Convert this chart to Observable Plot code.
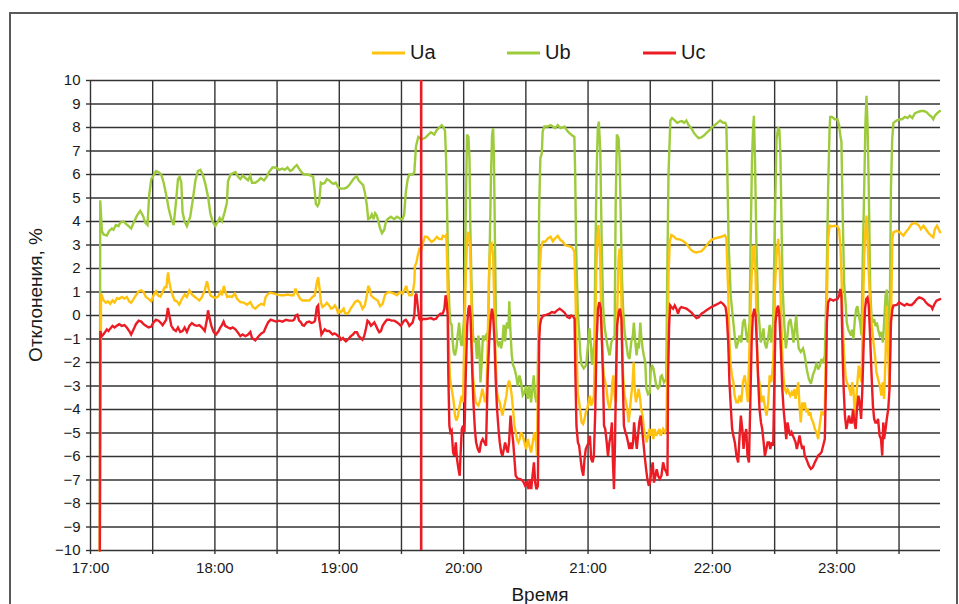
<!DOCTYPE html>
<html><head><meta charset="utf-8">
<script src="https://cdn.jsdelivr.net/npm/d3@7"></script>
<script src="https://cdn.jsdelivr.net/npm/@observablehq/plot@0.6"></script>
<style>
html,body{margin:0;padding:0;background:#fff;}
#wrap{position:relative;width:959px;height:604px;overflow:hidden;font-family:"Liberation Sans",Arial,sans-serif;}
#chart{position:absolute;left:0;top:0;}
#overlay{position:absolute;left:0;top:0;}
#frame{position:absolute;left:9px;top:12px;width:945px;height:640px;border:2px solid #5a5a5a;pointer-events:none;}
</style></head><body>
<div id="wrap"><div id="chart"></div><svg id="overlay" width="959" height="604"></svg><div id="frame"></div></div>
<script>
// Series names and colours (legend order)
const seriesNames = ["Ua", "Ub", "Uc"];
const seriesColors = ["#ffc20e", "#9dcb3b", "#ec1c24"];
const xTitle = "Время";
const yTitle = "Отклонения, %";
const xTickLabels = ["17:00","18:00","19:00","20:00","21:00","22:00","23:00"];
const yTickValues = [-10,-9,-8,-7,-6,-5,-4,-3,-2,-1,0,1,2,3,4,5,6,7,8,9,10];
const markerMinute = 159.5; // red marker line (minutes after 17:00)
const endMinute = 410;      // 23:50

// [minutes after 17:00, deviation %]
const ua = [
[4.5,-10],[5.1,0.93],[6.3,0.64],[7.4,0.54],[8.4,0.6],[9.5,0.5],[10.6,0.64],[11.6,0.55],[12.7,0.74],[13.8,0.71],[15.1,0.79],[16.4,0.72],[17.5,0.79],[18.7,0.6],[19.6,0.54],[20.8,0.71],[21.9,0.86],[23.2,1.03],[24.5,1.07],[25.6,1.0],[26.7,0.79],[28.0,0.71],[29.3,0.6],[30.4,0.86],[31.6,1.03],[32.5,0.86],[33.7,0.8],[34.8,1.0],[35.8,1.2],[36.6,1.2],[37.4,1.83],[38.0,1.43],[38.7,1.14],[39.6,0.86],[40.6,0.64],[41.7,0.6],[42.8,0.46],[44.1,0.71],[45.4,0.89],[46.5,0.79],[47.7,1.07],[49.0,0.89],[50.2,0.8],[51.4,0.72],[52.5,0.64],[53.8,0.79],[55.1,1.07],[56.2,1.46],[57.0,1.14],[57.8,0.86],[58.9,0.79],[60.2,0.75],[61.5,0.8],[62.6,1.0],[63.4,0.86],[64.3,1.26],[65.1,1.0],[65.9,0.79],[67.0,0.82],[68.3,0.79],[69.6,0.93],[70.7,0.71],[72.3,0.57],[73.9,0.55],[75.5,0.46],[77.1,0.57],[78.3,0.36],[79.5,0.29],[81.1,0.43],[82.4,0.5],[83.6,0.45],[84.5,0.79],
[85.7,0.93],[86.9,0.97],[88.5,0.93],[90.2,0.89],[91.8,0.86],[93.4,0.86],[95.0,0.89],[96.6,0.86],[97.9,0.86],[98.9,1.14],[99.8,0.93],[101.1,0.71],[102.2,0.64],[103.9,0.64],[105.5,0.64],[107.1,0.79],[108.2,0.86],[109.2,1.42],[109.8,1.63],[110.5,1.14],[111.1,0.57],[111.9,0.36],[113.0,0.43],[114.0,0.54],[115.1,0.43],[116.0,0.29],[116.8,0.31],[117.9,0.43],[118.8,0.29],[119.5,0.07],[120.1,0.21],[120.8,0.14],[122.1,0.29],[122.7,0.11],[123.7,0.07],[124.6,0.14],[125.6,0.31],[126.6,0.43],[127.5,0.57],[128.8,0.64],[130.1,0.54],[131.2,0.29],[132.3,0.43],[133.3,0.86],[133.95,1.26],[134.6,1.14],[135.3,0.86],[136.0,0.79],[137.2,0.71],[138.5,0.64],[139.7,0.4],[140.9,0.5],[142.0,0.86],[143.0,0.97],[144.1,1.0],[145.2,0.97],[146.5,0.93],[147.8,0.86],[148.9,0.97],[149.7,1.0],[150.5,0.93],[151.7,1.14],[152.3,1.26],[153.0,1.0],[153.8,0.86],[154.9,0.86],[155.5,1.0],[156.2,1.42],[156.5,2.11],[157.2,2.25],[157.8,2.53],[158.6,2.82],[159.4,2.75],[160.4,3.1],[161.3,3.35],[162.3,3.35],[163.4,3.24],[164.5,3.13],[165.8,3.21],
[167.1,3.35],[168.2,3.25],[169.4,3.25],[170.0,3.39],[171.0,3.35],[171.6,3.42],[172.0,2.42],[172.3,1.0],[172.8,-1.13],[173.3,-2.55],[173.9,-2.98],[174.5,-3.27],[175.2,-3.69],[175.8,-4.26],[176.5,-4.47],[177.1,-4.33],[177.8,-3.98],[178.4,-3.69],[179.0,-3.41],[179.7,-3.69],[180.3,-1.13],[181.0,1.71],[181.6,3.14],[182.1,3.56],[182.6,3.42],[183.1,2.85],[183.6,1.0],[184.0,-1.13],[184.5,-2.55],[185.2,-3.27],[185.8,-3.69],[186.4,-3.76],[187.1,-3.83],[187.7,-3.69],[188.4,-3.41],[189.0,-3.12],[189.7,-3.41],[190.3,-3.69],[191.0,-3.41],[191.6,-1.13],[192.2,1.71],[192.9,2.99],[193.5,3.06],[194.2,2.57],[194.8,0.29],[195.4,-1.84],[196.1,-3.27],[196.7,-3.55],[197.4,-3.69],[198.0,-3.98],[198.7,-4.26],[199.3,-3.98],[200.0,-3.69],[200.6,-3.41],[201.2,-2.98],[201.9,-2.77],[202.5,-2.98],[203.2,-3.41],[203.8,-3.98],[204.5,-4.69],[205.1,-4.97],[205.7,-5.26],[206.4,-5.4],[207.0,-5.26],[207.7,-4.97],[208.5,-5.12],[209.3,-5.4],[210.1,-5.68],[210.9,-5.26],[211.7,-5.54],[212.5,-5.83],[213.3,-5.4],[214.1,-4.97],[214.9,-5.4],[215.4,-5.97],[216.0,-1.13],[216.5,1.71],[217.3,2.85],[218.1,3.14],[219.3,3.14],[220.6,3.28],[221.9,3.35],[223.0,3.16],[224.1,3.28],[225.4,3.39],[226.7,3.21],[227.8,3.14],[229.0,2.99],[230.2,2.96],[231.8,2.92],[232.7,2.85],[233.4,2.71],[233.9,1.0],[234.4,-1.13],[235.0,-3.27],[235.7,-3.69],[236.3,-4.12],[236.9,-4.55],[237.6,-4.62],[238.3,-4.4],[238.9,-4.12],[239.6,-3.98],[240.2,-3.69],[240.9,-3.41],[241.5,-3.83],[242.2,-3.69],[242.8,-3.41],[243.4,-1.13],[243.9,1.71],[244.4,3.1],[245.0,3.85],[245.7,2.85],[246.3,0.29],[247.0,-1.84],[247.6,-2.55],[248.3,-2.84],[248.7,-2.98],
[249.6,-3.69],[250.4,-3.98],[251.2,-3.55],[251.7,-2.84],[252.2,-2.55],[252.8,-3.41],[253.5,-3.69],[254.1,0.29],[254.7,2.42],[255.2,2.85],[255.7,2.42],[256.3,-0.42],[256.9,-2.55],[257.6,-3.41],[258.3,-3.69],[258.9,-3.98],[259.6,-4.55],[260.2,-3.98],[260.8,-3.41],[261.5,-2.84],[262.0,-1.99],[262.5,-3.12],[263.1,-3.69],[263.8,-3.41],[264.4,-3.12],[265.1,-3.55],[265.6,-3.98],[266.3,-4.26],[266.9,-4.83],[267.6,-5.12],[268.3,-5.4],[268.9,-5.12],[269.6,-4.83],[270.2,-5.12],[270.8,-4.83],[271.5,-5.26],[272.1,-4.83],[272.9,-5.12],[273.7,-4.97],[274.5,-4.83],[275.0,-5.12],[276.2,-4.83],[277.0,-4.97],[277.7,-4.83],[278.2,-2.55],[278.8,1.71],[279.4,3.14],[280.2,3.42],[281.5,3.35],[282.6,3.25],[283.7,3.25],[285.0,3.21],[286.3,3.14],[287.4,3.06],[288.5,2.92],[289.8,2.78],[291.1,2.71],[292.2,2.68],[293.3,2.71],[294.7,2.74],[295.9,2.85],[297.0,2.96],[298.2,3.11],[299.4,3.21],[301.1,3.28],[302.4,3.31],[304.4,3.35],[306.0,3.42],[306.7,3.28],[307.6,1.0],[308.2,-1.13],[308.8,-2.13],[309.4,-2.55],[310.1,-2.84],[310.7,-3.41],[311.5,-3.69],[312.3,-3.69],[313.1,-3.41],[313.9,-3.69],[314.7,-2.84],[315.6,-2.55],[316.4,-3.12],[317.1,-3.69],[317.9,-1.13],[318.9,1.71],[319.6,2.85],[320.0,3.0],[320.8,1.71],[321.4,-1.13],[322.0,-2.55],[322.9,-2.98],[323.7,-3.69],[324.5,-3.41],[325.2,-3.83],[326.1,-4.26],[326.9,-3.69],[327.6,-2.55],[328.4,-2.84],
[329.3,-1.99],[330.1,1.13],[330.9,2.55],[331.7,3.26],[332.3,2.55],[333.0,0.42],[333.7,-1.71],[334.3,-2.7],[334.9,-3.13],[335.6,-3.27],[336.2,-3.13],[337.5,-3.41],[338.2,-3.27],[338.8,-3.41],[339.5,-3.13],[340.1,-3.55],[341.4,-2.84],[342.0,-3.84],[342.6,-4.55],[343.3,-3.7],[343.9,-3.98],[344.5,-3.7],[345.3,-4.12],[345.9,-3.98],[346.5,-4.26],[347.2,-4.12],[347.8,-4.4],[348.6,-4.55],[349.4,-4.83],[350.2,-4.97],[351.0,-5.26],[351.9,-4.55],[352.6,-4.12],[353.4,-4.19],[354.2,-3.98],[355.0,-0.29],[355.8,3.26],[356.5,3.82],[357.5,3.79],[359.0,3.82],[360.3,3.79],[361.1,3.68],[361.7,2.97],[362.2,1.84],[362.8,-0.29],[363.5,-1.71],[364.2,-2.56],[364.8,-2.84],[365.5,-2.99],[366.1,-3.13],[366.8,-3.41],[367.4,-2.84],[368.0,-3.13],[368.7,-4.26],[369.3,-3.7],[369.9,-2.84],[370.6,-2.13],[371.2,-2.56],[371.9,-2.84],[372.5,-0.29],[373.2,2.55],[373.8,3.68],[374.3,4.25],[374.8,3.26],[375.4,1.84],[376.1,0.42],[376.7,-0.29],[377.5,-1.0],[378.4,-1.71],[379.1,-2.42],[379.9,-2.7],[380.7,-2.99],[381.5,-3.41],[382.2,-2.84],[382.8,-3.55],[383.5,-1.71],[384.1,0.42],[384.8,-1.71],[385.4,-3.13],[386.1,-0.29],[386.8,3.26],[387.3,3.54],[388.8,3.6],[390.4,3.54],[392.1,3.4],[393.2,3.54],[394.5,3.68],[396.1,3.89],[397.6,3.94],[399.4,3.85],[400.5,3.68],[401.8,3.82],[402.9,3.68],[404.2,3.51],[405.5,3.4],[406.5,3.33],[407.3,3.68],[408.3,3.82],[409.8,3.54]
];

const ub = [
[4.5,-10],[4.7,4.9],[5.5,3.6],[6.3,3.45],[7.9,3.4],[9.0,3.6],[10.3,3.7],[11.1,3.65],[12.2,3.85],[13.5,3.8],[14.3,3.95],[15.9,4.0],[17.1,3.9],[18.4,3.8],[19.6,3.7],[20.8,3.95],[22.4,4.25],[24.0,4.45],[25.3,4.25],[26.4,3.95],[27.5,3.85],[28.3,5.1],[29.3,5.8],[30.4,5.95],[31.6,6.15],[32.8,6.1],[34.1,6.0],[35.3,5.65],[36.6,5.1],[37.7,4.55],[39.0,4.1],[40.1,3.85],[41.2,4.8],[42.2,5.8],[43.0,5.9],[43.8,5.65],[44.4,4.4],[45.4,4.0],[46.5,3.8],[47.3,4.0],[48.1,4.2],[49.3,4.9],[50.6,5.75],[51.8,6.15],[53.0,6.2],[54.1,6.0],[55.4,5.6],[56.7,5.05],[57.8,4.35],[58.9,4.0],[60.2,3.8],[61.5,4.0],[62.3,4.15],[63.4,4.0],[64.7,4.4],[65.8,4.8],[66.3,5.7],[67.5,6.0],[68.6,6.05],[69.9,6.1],[71.2,5.9],[72.3,5.8],[73.4,5.95],[74.7,5.85],[76.0,5.75],[77.1,5.95],[77.9,5.65],[79.5,5.65],[81.1,5.75],
[82.1,5.85],[83.7,5.75],[85.0,5.9],[86.1,6.1],[87.8,6.3],[89.4,6.3],[91.0,6.2],[92.6,6.25],[93.7,6.2],[95.0,6.3],[96.3,6.15],[97.4,6.2],[98.2,6.3],[99.5,6.4],[100.6,6.25],[101.8,6.1],[103.0,6.0],[104.7,6.0],[106.3,5.95],[107.4,5.9],[108.2,5.25],[108.7,4.75],[109.5,4.65],[110.3,4.8],[111.1,5.65],[111.9,5.6],[113.0,5.65],[114.0,5.8],[115.1,5.75],[116.3,5.65],[117.2,5.6],[118.3,5.65],[119.5,5.45],[120.8,5.4],[122.4,5.4],[123.7,5.45],[124.8,5.55],[126.0,5.7],[127.2,5.85],[128.4,5.93],[129.3,5.75],[130.4,5.65],[131.5,5.55],[132.3,5.25],[133.3,4.7],[133.95,4.1],[134.9,4.15],[135.7,4.3],[136.5,4.1],[137.3,4.35],[138.1,4.25],[138.9,4.0],[139.7,3.7],[140.6,3.5],[141.7,3.65],[142.5,4.0],[143.3,4.1],[144.9,4.2],[146.5,4.1],[147.8,4.2],[148.9,4.15],[149.7,4.1],[150.5,4.1],[151.3,4.3],[152.1,5.25],[153.0,5.8],[153.8,6.0],[155.5,6.0],[156.2,6.1],[157.0,7.2],[158.1,7.6],[159.7,7.5],[161.3,7.55],[163.0,7.7],
[164.2,7.8],[165.8,7.7],[167.1,7.9],[168.2,8.0],[169.4,8.1],[170.3,8.0],[171.0,7.86],[171.5,6.7],[172.0,4.55],[172.6,1.7],[173.1,0.3],[173.6,-0.3],[174.2,-0.4],[174.7,-1.1],[175.2,-1.55],[175.8,-1.7],[176.5,-1.4],[177.1,-0.85],[177.8,-0.3],[178.4,-1.0],[179.0,-1.3],[179.7,-0.7],[180.3,0],[180.8,3.1],[181.3,6.0],[181.6,7.7],[182.3,7.6],[182.8,6.7],[183.2,3.85],[183.9,0.85],[184.5,-0.85],[185.2,-1.1],[185.8,-1.1],[186.4,-1.85],[187.1,-0.85],[187.6,-1.4],[188.1,-2.85],[188.7,-2.0],[189.3,-0.85],[190.0,-1.0],[190.8,-0.85],[191.6,-1.1],[191.9,-0.3],[192.6,3.1],[193.2,6.0],[193.7,7.7],[194.2,7.97],[194.6,6.7],[195.1,3.1],[195.6,-0.4],[196.1,-1.1],[196.7,-1.25],[197.4,-1.1],[198.0,-1.4],[198.7,-1.1],[199.3,-0.4],[200.0,-1.1],[200.4,-0.55],[200.9,-0.3],[201.6,-0.55],[202.0,0.6],[202.5,-0.55],[203.2,-1.7],[203.8,-2.1],[204.5,-2.25],[205.3,-2.55],[206.1,-3.0],[206.9,-2.55],[207.7,-2.85],[208.5,-3.4],[209.3,-3.3],[210.1,-3.0],[210.9,-3.55],[211.7,-3.0],[212.5,-3.7],[213.3,-3.0],[213.8,-2.55],[214.4,-3.4],[215.1,-3.7],[215.7,-3.3],[216.0,-0.4],[216.4,4.55],[217.0,6.7],[217.7,6.9],[218.1,7.83],[218.9,8.04],[220.6,8.04],[221.9,8.1],[223.0,8.04],[224.1,7.97],[225.4,8.1],[226.7,7.97],[227.8,8.0],[228.6,8.04],[230.2,7.83],[231.8,7.7],[233.4,7.6],[233.8,6.0],[234.2,3.1],[235.0,0.3],[235.8,-0.85],[236.3,-1.7],[236.9,-2.1],[237.9,-2.25],[239.1,-2.1],[239.8,-1.4],[240.7,-0.55],[241.5,-1.4],[241.9,-2.1],[242.4,-1.7],[243.1,-1.15],[243.4,1.7],[244.1,6.0],[244.7,7.97],[245.2,8.25],[245.9,7.0],[246.6,3.0],[247.3,0.3],[248.0,-0.5],[248.8,-1.0],[249.6,-1.4],[250.4,-1.7],[251.2,-1.15],[252.0,-1.0],[252.8,-0.85],[253.3,4.55],[253.9,7.7],[254.7,7.55],[255.2,6.7],[255.7,4.55],[256.3,1.7],[256.9,0.3],[257.6,-0.7],[258.4,-1.15],[259.2,-1.7],[260.0,-1.85],[260.8,-1.15],[261.6,-0.85],[262.1,-0.3],[262.8,-1.15],[263.4,-1.7],[264.1,-1.15],[264.5,-1.4],[265.2,-0.3],[265.6,-0.85],[266.3,-1.4],[266.9,-1.7],[267.6,-2.0],[268.1,-3.1],[268.9,-3.35],[269.7,-3.3],[270.2,-2.4],[270.8,-2.1],[271.5,-2.25],[272.1,-2.55],[272.9,-3.0],[273.7,-3.1],[274.5,-3.0],[275.0,-2.6],[275.6,-2.55],[276.6,-2.85],[277.7,-2.7],[278.2,1.7],[278.8,6.0],[279.7,8.3],[280.5,8.4],[281.8,8.3],[283.0,8.2],[284.2,8.25],[285.3,8.27],[286.3,8.2],[287.4,8.3],[288.5,8.1],[289.8,7.97],[291.1,7.76],[292.2,7.65],[293.3,7.55],[294.6,7.58],[295.9,7.66],[297.0,7.76],[298.2,7.86],[299.4,7.97],[301.1,8.1],[302.4,8.2],[303.7,8.3],[305.1,8.2],[306.2,8.2],[306.7,8.1],[307.2,6.0],[307.8,3.1],[308.8,0.85],[309.4,0.3],[310.1,-0.3],[310.7,-0.85],[311.5,-1.4],[312.3,-1.15],[313.1,-0.85],[313.9,-1.15],[314.7,-0.3],[315.5,-0.15],[316.4,-0.85],[317.1,-1.15],[317.9,-0.3],[318.4,3.1],[319.1,6.7],[319.6,7.97],[320.0,8.5],[320.5,6.7],[321.2,3.1],[322.0,0.3],[322.6,-0.3],[323.3,-1.15],[323.9,-0.85],[324.6,-0.55],[325.2,-1.15],[326.0,-1.4],[326.8,-1.0],[327.6,-0.4],[328.4,-1.15],[329.3,-0.3],[330.1,4.0],[330.9,7.5],[331.7,8.0],[332.3,7.9],[332.8,6.8],[333.3,4.0],[333.9,1.1],[334.6,-0.3],[335.4,-1.4],[336.2,-0.85],[336.8,-0.3],[337.6,-0.15],[338.4,-0.6],[339.1,-1.15],[339.7,-0.6],[340.4,0],[341.0,-0.85],[341.6,-1.4],[342.6,-1.55],[343.7,-1.4],[344.5,-1.7],[345.5,-2.3],[346.5,-2.7],[347.5,-2.9],[348.4,-2.55],[349.4,-2.3],[350.2,-2.0],[351.0,-2.3],[351.8,-2.15],[352.6,-1.85],[353.4,-2.0],[354.2,-1.7],[355.0,1.1],[355.8,5.4],[356.5,7.95],[356.8,8.45],[357.7,8.45],[359.0,8.35],[360.3,8.35],[361.1,8.1],[361.7,7.65],[362.2,7.4],[362.9,4.0],[363.5,1.4],[364.2,0.55],[364.8,-0.3],[365.5,-0.6],[366.1,-0.7],[366.8,-0.85],[367.4,-0.6],[368.0,-1.0],[368.7,-0.15],[369.3,0.26],[369.9,0.4],[370.6,0],[371.2,-0.3],[371.9,-0.85],[372.5,2.5],[373.2,5.4],[373.8,8.2],[374.3,9.35],[374.8,8.2],[375.4,5.4],[376.1,1.1],[376.7,0],[377.4,-0.3],[378.0,-0.15],[378.6,-0.45],[379.3,-0.3],[379.9,-0.6],[380.7,-0.85],[381.5,-0.7],[382.2,-1.15],[382.8,-0.3],[383.5,0.85],[384.1,1.1],[384.8,-0.3],[385.4,-1.15],[386.1,5.4],[386.7,7.5],[387.3,8.2],[388.8,8.3],[390.4,8.35],[391.5,8.35],[392.8,8.45],[394.1,8.4],[395.2,8.5],[396.4,8.4],[397.6,8.6],[398.9,8.65],[400.5,8.7],[402.1,8.7],[403.3,8.65],[404.4,8.55],[405.7,8.45],[406.5,8.35],[407.3,8.5],[408.3,8.6],[409.7,8.7]
];

const uc = [
[4.5,-10],[4.7,-0.66],[5.5,-0.88],[6.3,-0.8],[7.1,-0.7],[7.9,-0.59],[8.7,-0.66],[9.5,-0.56],[10.6,-0.44],[11.6,-0.51],[12.7,-0.44],[13.85,-0.37],[15.1,-0.44],[16.4,-0.41],[17.5,-0.51],[18.7,-0.66],[19.6,-0.81],[20.8,-0.59],[21.9,-0.37],[23.2,-0.22],[24.5,-0.26],[25.6,-0.37],[26.7,-0.44],[28.0,-0.51],[29.3,-0.47],[30.4,-0.29],[31.6,-0.18],[32.8,-0.22],[33.65,-0.29],[34.8,-0.41],[35.7,-0.29],[36.5,-0.18],[37.35,0.32],[38.0,0],[39.0,-0.44],[40.1,-0.59],[41.2,-0.66],[42.2,-0.51],[43.3,-0.7],[44.4,-0.66],[45.4,-0.51],[46.5,-0.7],[47.7,-0.44],[48.9,-0.32],[50.2,-0.41],[51.4,-0.44],[52.5,-0.41],[53.8,-0.51],[55.1,-0.66],[56.2,-0.15],[56.7,0.22],[57.3,-0.07],[58.3,-0.44],[59.4,-0.7],[60.5,-0.81],[61.8,-0.66],[62.6,-0.51],[63.4,-0.41],[64.2,-0.26],[65.0,-0.44],[66.3,-0.51],[67.5,-0.56],[68.6,-0.51],[69.9,-0.59],[71.2,-0.74],[72.3,-0.88],[73.4,-0.81],[74.7,-0.88],[76.0,-0.81],[77.1,-0.7],[77.9,-0.96],[79.5,-1.06],[81.1,-0.88],[82.4,-0.76],[83.6,-0.7],
[84.5,-0.51],[85.7,-0.29],[86.9,-0.18],[88.2,-0.22],[89.4,-0.26],[91.0,-0.22],[92.6,-0.26],[94.3,-0.18],[95.9,-0.22],[97.5,-0.22],[98.2,-0.18],[99.1,0],[99.8,0.03],[100.6,-0.22],[101.5,-0.29],[102.2,-0.41],[103.0,-0.44],[104.3,-0.29],[105.5,-0.26],[106.6,-0.32],[107.6,-0.29],[108.3,-0.22],[109.2,0.36],[109.8,0.43],[110.3,-0.15],[110.8,-0.44],[111.4,-0.81],[112.1,-0.71],[113.0,-0.59],[114.0,-0.66],[115.1,-0.66],[116.0,-0.74],[116.8,-0.81],[117.6,-0.76],[118.6,-0.81],[119.5,-0.88],[120.1,-0.91],[120.8,-1.03],[121.8,-0.96],[122.4,-1.03],[123.2,-1.1],[124.4,-1.0],[125.6,-0.88],[126.6,-0.81],[127.5,-0.71],[128.5,-0.71],[129.4,-0.88],[130.4,-0.96],[131.2,-1.03],[132.0,-0.88],[132.8,-0.59],[133.6,-0.22],[134.4,-0.29],[135.3,-0.44],[136.1,-0.37],[136.9,-0.29],[137.7,-0.44],[138.5,-0.59],[139.3,-0.71],[140.1,-0.66],[140.9,-0.44],[142.0,-0.29],[143.0,-0.18],[144.1,-0.18],[145.2,-0.22],[146.5,-0.22],[147.8,-0.29],[148.9,-0.37],[149.7,-0.44],[150.5,-0.32],[151.3,-0.22],[152.1,-0.18],[153.0,-0.29],[153.8,-0.44],[154.6,-0.37],[155.4,-0.29],[156.2,0],[156.7,0.86],[157.2,0.93],[157.8,0.43],[158.6,-0.15],[159.4,-0.22],[160.2,-0.15],[162.0,-0.15],[163.5,-0.12],
[164.3,-0.11],[165.5,-0.17],[166.7,-0.14],[167.8,0],[168.8,0.08],[169.9,0.08],[170.7,0.29],[171.3,0.86],[171.8,0.57],[172.3,0],[172.6,-2.55],[173.1,-4.69],[173.6,-4.97],[174.2,-4.9],[174.9,-5.83],[175.5,-5.97],[176.2,-5.4],[176.8,-6.11],[177.5,-6.54],[178.1,-6.82],[178.4,-6.11],[179.1,-4.83],[179.7,-4.69],[180.4,-4.97],[181.0,-2.55],[181.7,-0.42],[182.3,0.29],[182.8,0.43],[183.3,0],[183.7,-1.13],[184.2,-2.55],[184.7,-3.69],[185.4,-4.83],[186.0,-5.4],[186.8,-5.68],[187.6,-5.83],[188.4,-5.4],[189.2,-5.26],[190.0,-5.4],[190.8,-5.54],[191.6,-2.55],[192.3,-1.13],[192.9,-0.28],[193.6,0.29],[194.2,0],[194.9,-1.13],[195.5,-2.84],[196.1,-3.98],[196.8,-4.83],[197.4,-5.4],[198.1,-5.83],[198.7,-5.97],[199.4,-5.68],[200.0,-5.4],[200.7,-5.68],[201.3,-5.83],[201.9,-5.4],[202.6,-4.26],[203.2,-4.83],[203.9,-5.4],[204.5,-6.11],[205.1,-6.82],[206.1,-6.94],[207.4,-6.96],[208.6,-7.04],[209.7,-7.25],[210.6,-7.11],[211.3,-7.39],[211.9,-6.96],[212.6,-7.39],[213.2,-6.82],[213.9,-6.25],[214.5,-7.11],[215.1,-7.39],[215.8,-7.25],[216.1,-3.98],[216.4,-1.13],[216.8,-0.42],[217.4,-0.14],[218.4,0],[219.8,0.03],[221.4,0.08],[222.6,0.15],[223.9,0.12],[225.1,0.22],[226.3,0.29],[227.4,0.22],[228.7,0.12],[230.0,-0.07],[231.1,-0.11],[231.9,0],[232.7,-0.03],[233.5,-0.14],[233.9,-2.55],[234.4,-4.69],[235.1,-5.4],[235.7,-5.54],[236.4,-6.11],[237.0,-6.54],[237.7,-6.82],[238.3,-6.11],[238.9,-5.68],[239.6,-5.54],[240.3,-5.4],[240.9,-5.12],[241.5,-6.11],[242.2,-6.25],[242.8,-5.97],[243.5,-3.98],[244.1,-1.13],[244.8,0.29],[245.4,0.57],[246.1,0.3],[246.7,-1.13],[247.2,-2.55],
[247.7,-4.69],[248.3,-4.83],[249.0,-5.4],[249.6,-5.97],[250.3,-5.4],[250.9,-5.12],[251.5,-4.55],[252.0,-6.25],[252.5,-7.39],[253.0,-5.4],[253.5,-2.55],[254.0,-0.42],[254.8,0.15],[255.4,0.29],[256.1,-0.14],[256.7,-2.55],[257.3,-4.69],[258.0,-4.97],[258.6,-5.12],[259.3,-5.4],[259.9,-5.68],[260.6,-5.4],[261.2,-5.68],[261.7,-5.4],[262.2,-4.55],[262.8,-5.12],[263.5,-5.68],[264.1,-5.12],[264.7,-4.55],[265.4,-4.26],[266.0,-4.83],[266.7,-5.4],[267.3,-5.97],[268.0,-6.54],[268.6,-6.96],[269.3,-7.25],[269.9,-7.11],[270.6,-6.54],[271.2,-6.25],[271.8,-7.11],[272.5,-6.82],[273.1,-6.54],[273.8,-6.82],[274.6,-6.96],[275.4,-6.82],[276.2,-6.25],[277.0,-6.54],[277.8,-6.68],[278.3,-6.82],[278.6,-2.55],[279.1,-0.42],[279.6,0.43],[280.2,0.36],[281.0,0.29],[281.8,0.43],[282.6,0.29],[283.4,0.08],[284.2,0.29],[285.0,0.36],[286.3,0.32],[287.5,0.29],[288.6,0.22],[289.9,0.12],[291.1,0],[292.3,-0.11],[293.4,-0.07],[294.7,0.08],[296.0,0.15],[297.1,0.22],[298.2,0.29],[299.5,0.36],[301.1,0.43],[302.7,0.5],[304.0,0.57],[305.1,0.5],[306.3,0.36],[306.9,0],[307.6,-1.13],[308.2,-2.84],[308.9,-3.98],[309.5,-4.83],[310.1,-5.12],[310.8,-5.4],[311.6,-5.97],[312.4,-6.25],[313.1,-5.12],[313.7,-4.26],[314.4,-4.83],[315.0,-5.68],[315.6,-5.12],[316.3,-4.83],[316.9,-5.97],[317.6,-6.25],[318.2,-3.98],[318.9,-1.13],[319.5,0],[320.2,0.29],[320.8,0],[321.4,-1.13],[322.1,-2.84],[322.7,-3.98],[323.4,-4.55],[324.0,-4.83],[324.7,-5.4],[325.3,-5.97],[326.0,-5.68],[326.6,-5.4],[327.3,-5.4],[327.9,-5.68],[328.5,-5.4],
[329.3,-5.54],[329.8,-3.13],[330.4,-0.29],[331.1,0.28],[331.7,0.42],[332.3,0],[333.0,-1.43],[333.7,-3.13],[334.3,-3.98],[334.9,-4.55],[335.6,-5.26],[336.2,-4.55],[336.8,-4.83],[337.5,-5.11],[338.2,-4.97],[338.8,-5.11],[339.5,-5.26],[340.1,-5.4],[340.7,-5.68],[341.4,-5.4],[342.0,-5.11],[342.6,-5.4],[343.3,-5.68],[343.9,-5.54],[344.5,-5.96],[345.3,-6.11],[345.9,-6.25],[346.5,-6.39],[347.5,-6.53],[348.4,-6.46],[349.4,-6.25],[350.2,-6.11],[351.0,-5.96],[351.9,-5.89],[352.6,-5.82],[353.4,-5.54],[354.2,-5.26],[354.7,-3.13],[355.2,-0.29],[355.8,0.56],[356.7,0.7],[357.5,0.67],[358.3,0.63],[359.0,0.67],[360.3,0.7],[361.1,0.84],[361.7,1.13],[362.2,0.84],[362.8,-1.71],[363.3,-3.13],[363.9,-4.26],[364.6,-4.83],[365.2,-4.55],[365.9,-4.26],[366.5,-4.55],[367.2,-4.55],[367.8,-3.98],[368.5,-4.55],[369.1,-4.83],[369.7,-3.98],[370.4,-3.41],[371.0,-3.7],[371.7,-4.4],[372.3,-3.13],[373.0,-1.0],[373.6,0.28],[374.2,0.7],[374.8,0.77],[375.4,0.42],[376.1,-1.0],[376.7,-2.42],[377.4,-3.84],[378.0,-4.4],[378.6,-4.55],[379.3,-4.55],[379.9,-4.4],[380.6,-5.11],[381.3,-5.26],[381.9,-5.96],[382.4,-4.55],[382.8,-5.26],[383.5,-4.83],[384.1,-4.4],[384.8,-3.98],[385.4,-3.13],[386.1,-0.29],[386.8,0.28],[387.3,0.42],[388.9,0.45],[390.0,0.56],[391.3,0.49],[392.6,0.42],[393.7,0.49],[394.8,0.45],[396.1,0.45],[397.4,0.56],[398.6,0.7],[399.7,0.77],[401.0,0.73],[402.1,0.67],[402.9,0.56],[404.2,0.45],[405.5,0.39],[406.1,0.28],[407.1,0.49],[408.1,0.63],[409.8,0.7]
];

const T0 = Date.UTC(2000, 0, 1, 17, 0);
const toDate = m => new Date(T0 + m * 60000);
const toRows = arr => arr.map(([m, v]) => ({t: toDate(m), v}));
const seriesData = {Ua: ua, Ub: ub, Uc: uc};
const colorOf = name => seriesColors[seriesNames.indexOf(name)];

const halfHours = d3.utcMinute.every(30).range(toDate(0), toDate(endMinute));
const fmtTick = (d, i) => (i % 2 === 0 ? (xTickLabels[i / 2] ?? "") : "");

const gridColor = "#333333";
const drawOrder = ["Ub", "Ua", "Uc"];

const chart = Plot.plot({
  width: 959,
  height: 604,
  marginLeft: 90,
  marginRight: 19,
  marginTop: 80,
  marginBottom: 54,
  style: {fontFamily: "'Liberation Sans', Arial, sans-serif", fontSize: "15px", color: "#1a1a1a", background: "transparent"},
  x: {type: "utc", domain: [toDate(0), toDate(endMinute)]},
  y: {domain: [-10, 10]},
  marks: [
    Plot.gridY(yTickValues, {stroke: gridColor, strokeOpacity: 1, strokeWidth: 1.4}),
    Plot.gridX(halfHours, {stroke: gridColor, strokeOpacity: 1, strokeWidth: 1.4}),
    Plot.axisY(yTickValues, {tickSize: 4, tickPadding: 6, label: null, stroke: gridColor, strokeWidth: 1.4}),
    Plot.axisX(halfHours, {tickSize: 4, tickPadding: 8, label: null, tickFormat: fmtTick, stroke: gridColor, strokeWidth: 1.4}),
    ...drawOrder.map(name => Plot.line(toRows(seriesData[name]), {
      x: "t", y: "v", stroke: colorOf(name), strokeWidth: 2.4, strokeLinejoin: "miter", strokeMiterlimit: 3
    })),
    Plot.ruleX([toDate(markerMinute)], {stroke: colorOf("Uc"), strokeWidth: 2.6})
  ]
});
document.getElementById("chart").appendChild(chart);

// Legend and axis titles (overlay)
const ov = d3.select("#overlay");
const legendX = [372, 507, 643];
seriesNames.forEach((name, i) => {
  const g = ov.append("g").attr("transform", `translate(${legendX[i]},0)`);
  g.append("line").attr("x1", 0).attr("x2", 33).attr("y1", 53).attr("y2", 53)
    .attr("stroke", seriesColors[i]).attr("stroke-width", 3);
  g.append("text").attr("x", 38).attr("y", 58.5).text(name)
    .attr("font-family", "'Liberation Sans', Arial, sans-serif").attr("font-size", 20).attr("fill", "#1a1a1a");
});
ov.append("text").attr("transform", "translate(42,295) rotate(-90)").attr("text-anchor", "middle")
  .attr("font-family", "'Liberation Sans', Arial, sans-serif").attr("font-size", 19).attr("fill", "#1a1a1a").text(yTitle);
ov.append("text").attr("x", 540).attr("y", 601).attr("text-anchor", "middle")
  .attr("font-family", "'Liberation Sans', Arial, sans-serif").attr("font-size", 19).attr("fill", "#1a1a1a").text(xTitle);
</script>
</body></html>
